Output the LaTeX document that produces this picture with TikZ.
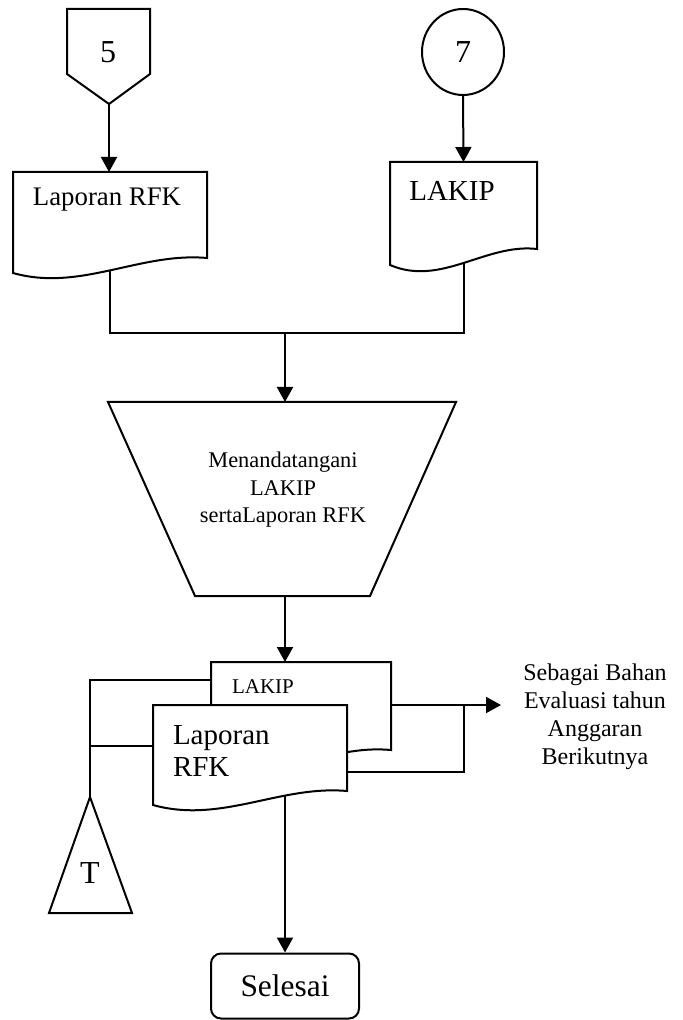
\documentclass[tikz,border=0pt]{standalone}
\usepackage{fontspec}
\setmainfont{Liberation Serif}
\usetikzlibrary{calc,arrows.meta,shapes.geometric}

\begin{document}
\begin{tikzpicture}[x=0.5pt,y=-0.5pt,line width=1pt,
    arr/.style={-{Triangle[length=7.5pt,width=8pt]}},
    txt/.style={inner sep=0pt,align=center}]
    \useasboundingbox (0,0) rectangle (683,1020);

    \draw (67,9) -- (150,9) -- (150,74) -- (109,104) coordinate (p5) -- (67,74) -- cycle;
    \node[txt,font=\fontsize{16}{18}\selectfont] (n5) at (108,52) {5};
    \node[draw,ellipse,minimum width=41pt,minimum height=43pt,inner sep=0pt,
        font=\fontsize{16}{18}\selectfont] (c7) at (463,52) {7};

    \draw (13,273) .. controls (80,292) and (140,252) .. coordinate[pos=.5] (rfkB) (207,258)
        -- (207,172) -- coordinate[pos=.5] (rfkT) (13,172) -- cycle;
    \node[txt,font=\fontsize{13.4}{15}\selectfont] (rfk) at (107,200) {Laporan RFK};
    \draw (390,265) .. controls (441,287) and (486,243) .. coordinate[pos=.5] (lakipB) (537,249)
        -- (537,162) -- coordinate[pos=.5] (lakipT) (390,162) -- cycle;
    \node[txt,font=\fontsize{14.5}{16}\selectfont] (lakip) at (452,191) {LAKIP};
    \draw[arr] (p5) -- (p5 |- rfkT);
    \draw[arr] (c7.south) -- (lakipT);

    \coordinate (join) at (285,333);
    \draw (rfkB) |- (join) -| (lakipB);

    \coordinate (trapT) at (285,402);
    \coordinate (trapB) at (285,596);
    \draw (108,402) -- (456,402) -- (370,596) -- (195,596) -- cycle;
    \node[txt,font=\fontsize{11.2}{13.8}\selectfont] (ttd) at (283,490)
        {Menandatangani\\LAKIP\\sertaLaporan RFK};
    \draw[arr] (join) -- (trapT);

    \coordinate (backT) at (285,662);
    \draw[arr] (trapB) -- (backT);
    \draw (211,765) .. controls (274,784) and (328,744) .. (391,750)
        -- (391,662) -- (211,662) -- cycle;
    \node[txt,font=\fontsize{10.5}{12}\selectfont] (lakip2) at (263,687) {LAKIP};
    \draw[fill=white] (153,805) .. controls (221,824) and (280,785) .. coordinate[pos=.68] (frontB) (347,791)
        -- (347,705) -- (153,705) -- cycle;
    \node[txt,align=left,anchor=west,font=\fontsize{14.5}{16}\selectfont] (rfk2) at (172,751)
        {Laporan\\RFK};

    \coordinate (backW) at (211,680);
    \coordinate (frontW) at (153,746);
    \coordinate (apex) at (90,797);
    \draw (backW) -| (apex);
    \draw (frontW) -- (frontW -| apex);
    \draw (apex) -- (132,913) -- (49,913) -- cycle;
    \node[txt,font=\fontsize{16}{18}\selectfont] (tT) at (90,873) {T};

    \coordinate (backE) at (391,705);
    \coordinate (frontE) at (347,772);
    \coordinate (busR) at (464,705);
    \coordinate (outE) at (501,705);
    \draw[arr] (backE) -- (outE);
    \draw (frontE) -| (busR);
    \node[txt,font=\fontsize{12}{14}\selectfont] (note) at (595,717)
        {Sebagai Bahan\\Evaluasi tahun\\Anggaran\\Berikutnya};

    \node[draw,rounded corners=5pt,minimum width=74pt,minimum height=32.5pt,
        font=\fontsize{15.7}{18}\selectfont] (selesai) at (285,986) {Selesai};
    \draw[arr] (selesai.north |- frontB) -- (selesai.north);
\end{tikzpicture}
\end{document}
